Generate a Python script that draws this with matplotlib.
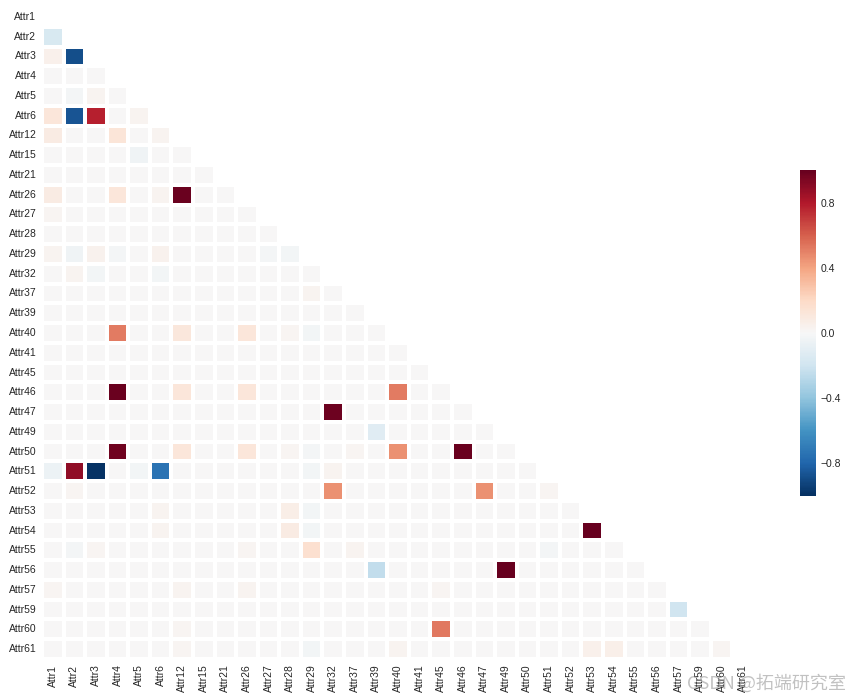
import numpy as np
import pandas as pd
import matplotlib
matplotlib.use("Agg")
import matplotlib.pyplot as plt
import seaborn as sns

# attribute names (rows and columns of the correlation matrix)
attrs = ["Attr1", "Attr2", "Attr3", "Attr4", "Attr5", "Attr6", "Attr12", "Attr15",
         "Attr21", "Attr26", "Attr27", "Attr28", "Attr29", "Attr32", "Attr37", "Attr39",
         "Attr40", "Attr41", "Attr45", "Attr46", "Attr47", "Attr49", "Attr50", "Attr51",
         "Attr52", "Attr53", "Attr54", "Attr55", "Attr56", "Attr57", "Attr59", "Attr60",
         "Attr61"]

# lower-triangle correlations (everything else ~0)
row_attr = ["Attr2", "Attr3", "Attr3", "Attr5", "Attr5",
            "Attr6", "Attr6", "Attr6", "Attr6",
            "Attr12", "Attr12", "Attr12", "Attr15",
            "Attr26", "Attr26", "Attr26", "Attr26", "Attr27",
            "Attr29", "Attr29", "Attr29", "Attr29", "Attr29", "Attr29", "Attr29",
            "Attr32", "Attr32", "Attr32", "Attr37",
            "Attr40", "Attr40", "Attr40", "Attr40", "Attr40",
            "Attr46", "Attr46", "Attr46", "Attr46",
            "Attr47", "Attr49",
            "Attr50", "Attr50", "Attr50", "Attr50", "Attr50", "Attr50", "Attr50", "Attr50",
            "Attr51", "Attr51", "Attr51", "Attr51", "Attr51", "Attr51", "Attr51",
            "Attr52", "Attr52", "Attr52", "Attr52",
            "Attr53", "Attr53", "Attr53",
            "Attr54", "Attr54", "Attr54", "Attr54",
            "Attr55", "Attr55", "Attr55", "Attr55", "Attr55", "Attr55",
            "Attr56", "Attr56",
            "Attr57", "Attr57", "Attr57", "Attr57",
            "Attr59",
            "Attr60", "Attr60",
            "Attr61", "Attr61", "Attr61", "Attr61", "Attr61", "Attr61"]
col_attr = ["Attr1", "Attr1", "Attr2", "Attr2", "Attr3",
            "Attr1", "Attr2", "Attr3", "Attr5",
            "Attr1", "Attr4", "Attr6", "Attr5",
            "Attr1", "Attr4", "Attr6", "Attr12", "Attr1",
            "Attr1", "Attr2", "Attr3", "Attr4", "Attr6", "Attr27", "Attr28",
            "Attr2", "Attr3", "Attr6", "Attr29",
            "Attr4", "Attr12", "Attr26", "Attr28", "Attr29",
            "Attr4", "Attr12", "Attr26", "Attr40",
            "Attr32", "Attr39",
            "Attr4", "Attr12", "Attr26", "Attr28", "Attr29", "Attr37", "Attr40", "Attr46",
            "Attr1", "Attr2", "Attr3", "Attr5", "Attr6", "Attr29", "Attr32",
            "Attr2", "Attr32", "Attr47", "Attr51",
            "Attr6", "Attr28", "Attr29",
            "Attr6", "Attr28", "Attr29", "Attr53",
            "Attr2", "Attr3", "Attr26", "Attr29", "Attr37", "Attr51",
            "Attr39", "Attr49",
            "Attr1", "Attr12", "Attr26", "Attr45",
            "Attr57",
            "Attr12", "Attr45",
            "Attr12", "Attr29", "Attr40", "Attr53", "Attr54", "Attr60"]
corr_val = [-0.16, 0.05, -0.89, -0.02, 0.03,
            0.12, -0.86, 0.78, 0.03,
            0.08, 0.13, 0.03, -0.04,
            0.08, 0.12, 0.03, 0.99, 0.02,
            0.03, -0.04, 0.04, -0.02, 0.04, -0.02, -0.03,
            0.03, -0.03, -0.03, 0.03,
            0.52, 0.11, 0.12, 0.02, -0.03,
            0.99, 0.12, 0.12, 0.52,
            0.98, -0.12,
            0.97, 0.12, 0.12, 0.02, -0.02, 0.02, 0.46, 0.99,
            -0.06, 0.89, -0.99, -0.03, -0.74, -0.03, 0.03,
            0.02, 0.46, 0.46, 0.02,
            0.03, 0.07, -0.03,
            0.03, 0.08, -0.03, 1.0,
            -0.02, 0.02, 0.02, 0.16, 0.03, -0.02,
            -0.25, 1.0,
            0.02, 0.03, 0.03, 0.02,
            -0.20,
            0.02, 0.53,
            0.02, -0.03, 0.03, 0.05, 0.06, 0.02]

corr = pd.DataFrame(0.0, index=attrs, columns=attrs)
for r, c, v in zip(row_attr, col_attr, corr_val):
    corr.loc[r, c] = v
    corr.loc[c, r] = v
for a in attrs:
    corr.loc[a, a] = 1.0

mask = np.triu(np.ones_like(corr, dtype=bool))

sns.set_style("white")
plt.rcParams['font.family'] = ['Liberation Sans', 'DejaVu Sans']

fig = plt.figure(figsize=(8.5, 7), dpi=100)
ax = fig.add_axes([42 / 850, 1 - 659 / 700, 712 / 850, 652 / 700])
cax = fig.add_axes([800 / 850, 1 - 496 / 700, 16 / 850, 326 / 700])

sns.heatmap(corr, mask=mask, cmap="RdBu_r", vmin=-1, vmax=1, center=0,
            linewidths=1.5, linecolor="white", ax=ax, cbar_ax=cax,
            cbar_kws={"ticks": [-0.8, -0.4, 0.0, 0.4, 0.8]})

ax.set_xticks(np.arange(len(attrs)) + 0.5)
ax.set_xticklabels(attrs, rotation=90, fontsize=7.5, color="#262626")
ax.set_yticks(np.arange(len(attrs)) + 0.5)
ax.set_yticklabels(attrs, rotation=0, fontsize=7.5, color="#262626")
ax.tick_params(length=0, pad=4)
cax.tick_params(labelsize=7.5, length=0, colors="#262626")
for s in cax.spines.values():
    s.set_visible(False)

# watermark from the source image
fig.text(0.995, 0.01, "CSDN @拓端研究室", ha="right", va="bottom", fontsize=13,
         color="#999999", alpha=0.6, family=["Noto Sans CJK SC", "DejaVu Sans"])

fig.savefig("out.png", dpi=100)
